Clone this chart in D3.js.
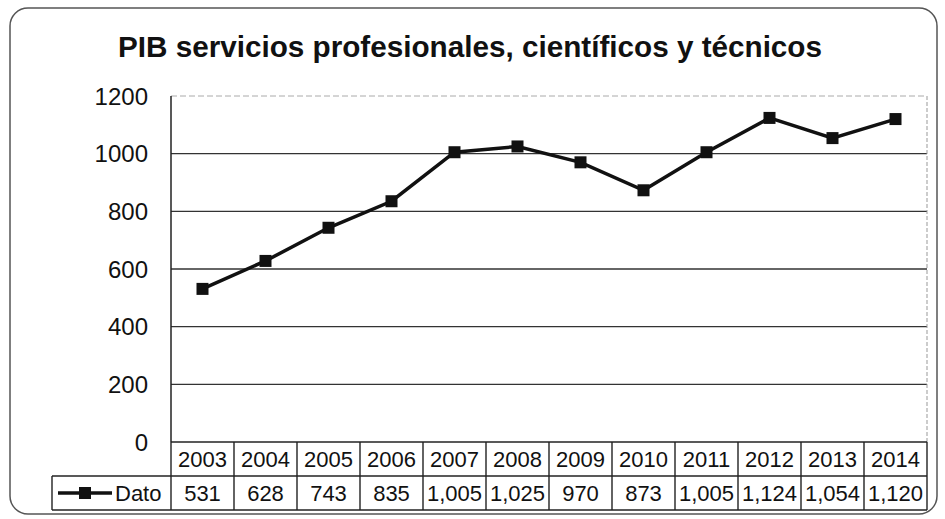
<!DOCTYPE html>
<html>
<head>
<meta charset="utf-8">
<script src="https://cdn.jsdelivr.net/npm/d3@7.9.0/dist/d3.min.js"></script>
<style>
  body { margin: 0; background: #fff; }
  svg text { font-family: "Liberation Sans", Arial, sans-serif; fill: #111; }
</style>
</head>
<body>
<svg id="chart" width="945" height="519"></svg>
<script>
// data
const years = ["2003", "2004", "2005", "2006", "2007", "2008", "2009", "2010", "2011", "2012", "2013", "2014"];
const values = [531, 628, 743, 835, 1005, 1025, 970, 873, 1005, 1124, 1054, 1120];
const yTicks = [0, 200, 400, 600, 800, 1000, 1200];
const seriesName = "Dato";
const title = "PIB servicios profesionales, científicos y técnicos";

const svg = d3.select("#chart");
const plotLeft = 171, plotRight = 927, plotTop = 96, plotBottom = 442;
const rowH = 34;

// outer frame
svg.append("rect")
    .attr("x", 10).attr("y", 8)
    .attr("width", 927).attr("height", 506)
    .attr("rx", 18)
    .attr("fill", "none")
    .attr("stroke", "#555")
    .attr("stroke-width", 1.5);

// title (condensed like the original)
svg.append("text")
    .attr("x", 118).attr("y", 57)
    .attr("font-size", 30)
    .attr("font-weight", "bold")
    .attr("textLength", 704)
    .attr("lengthAdjust", "spacingAndGlyphs")
    .text(title);

let x = d3.scaleBand().domain(years).range([plotLeft, plotRight]);
let y = d3.scaleLinear().domain([0, 1200]).range([plotBottom, plotTop]);

// gridlines
svg.append("g")
    .selectAll("line")
    .data(yTicks.filter(d => d > 0))
    .join("line")
    .attr("x1", plotLeft).attr("x2", plotRight)
    .attr("y1", d => y(d)).attr("y2", d => y(d))
    .attr("stroke", d => d === 1200 ? "#aaa" : "#333")
    .attr("stroke-width", d => d === 1200 ? 1 : 1.4)
    .attr("stroke-dasharray", d => d === 1200 ? "6,3" : null);

// y axis labels
svg.append("g")
    .selectAll("text")
    .data(yTicks)
    .join("text")
    .attr("x", 148)
    .attr("y", d => y(d))
    .attr("dy", "0.36em")
    .attr("text-anchor", "end")
    .attr("font-size", 24)
    .text(d => d);

// plot frame: left axis, right edge
svg.append("line")
    .attr("x1", plotLeft).attr("x2", plotLeft).attr("y1", plotTop).attr("y2", plotBottom)
    .attr("stroke", "#222").attr("stroke-width", 1.5);
svg.append("line")
    .attr("x1", plotRight).attr("x2", plotRight).attr("y1", plotTop).attr("y2", plotBottom)
    .attr("stroke", "#999").attr("stroke-width", 1)
    .attr("stroke-dasharray", "4,2");

// line + markers
let line = d3.line()
    .x((d, i) => x(years[i]) + x.bandwidth() / 2)
    .y(d => y(d));

svg.append("path")
    .datum(values)
    .attr("d", line)
    .attr("fill", "none")
    .attr("stroke", "#111")
    .attr("stroke-width", 3.5);

svg.append("g")
    .selectAll("rect")
    .data(values)
    .join("rect")
    .attr("x", (d, i) => x(years[i]) + x.bandwidth() / 2 - 6)
    .attr("y", d => y(d) - 6)
    .attr("width", 12).attr("height", 12)
    .attr("fill", "#111");

// data table
const table = svg.append("g").attr("stroke", "#222").attr("stroke-width", 1.4);
const legendLeft = 52;
const tBottom = plotBottom + rowH * 2;

table.append("line").attr("x1", plotLeft).attr("x2", plotRight).attr("y1", plotBottom).attr("y2", plotBottom);
table.append("line").attr("x1", legendLeft).attr("x2", plotRight).attr("y1", plotBottom + rowH).attr("y2", plotBottom + rowH);
table.append("line").attr("x1", legendLeft).attr("x2", plotRight).attr("y1", tBottom).attr("y2", tBottom);
table.append("line").attr("x1", legendLeft).attr("x2", legendLeft).attr("y1", plotBottom + rowH).attr("y2", tBottom);

table.selectAll("line.col")
    .data(years.concat(["end"]))
    .join("line")
    .attr("class", "col")
    .attr("x1", d => d === "end" ? plotRight : x(d))
    .attr("x2", d => d === "end" ? plotRight : x(d))
    .attr("y1", plotBottom).attr("y2", tBottom);

svg.append("g")
    .selectAll("text")
    .data(years)
    .join("text")
    .attr("x", d => x(d) + x.bandwidth() / 2)
    .attr("y", plotBottom + rowH / 2)
    .attr("dy", "0.36em")
    .attr("text-anchor", "middle")
    .attr("font-size", 22)
    .text(d => d);

svg.append("g")
    .selectAll("text")
    .data(values)
    .join("text")
    .attr("x", (d, i) => x(years[i]) + x.bandwidth() / 2)
    .attr("y", plotBottom + rowH * 1.5)
    .attr("dy", "0.36em")
    .attr("text-anchor", "middle")
    .attr("font-size", 22)
    .text(d => d3.format(",")(d));

// legend key in the table
const ly = plotBottom + rowH * 1.5;
svg.append("line")
    .attr("x1", 58).attr("x2", 112).attr("y1", ly).attr("y2", ly)
    .attr("stroke", "#111").attr("stroke-width", 3.5);
svg.append("rect")
    .attr("x", 79).attr("y", ly - 6).attr("width", 12).attr("height", 12)
    .attr("fill", "#111");
svg.append("text")
    .attr("x", 115).attr("y", ly)
    .attr("dy", "0.36em")
    .attr("font-size", 22)
    .text(seriesName);
</script>
</body>
</html>
